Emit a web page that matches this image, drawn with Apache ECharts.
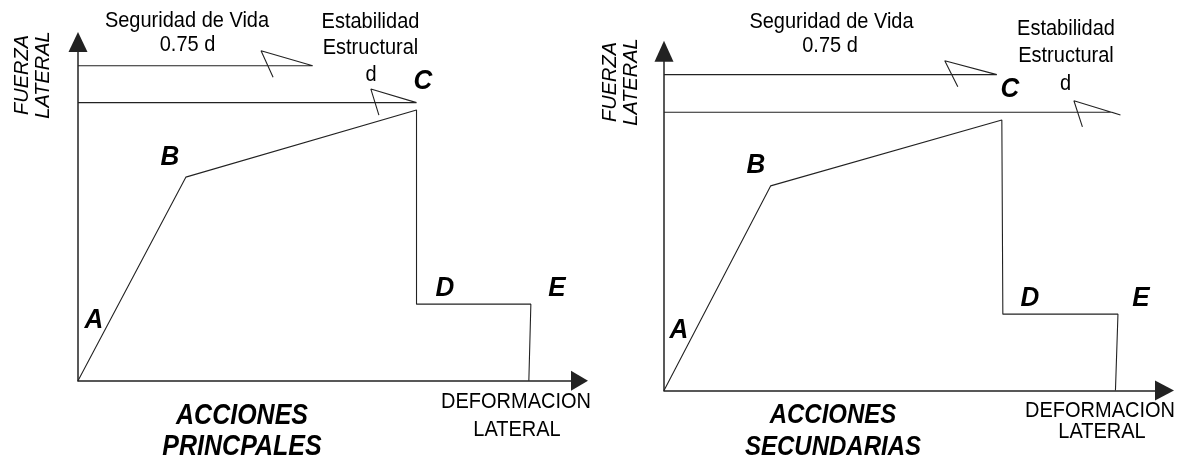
<!DOCTYPE html>
<html>
<head>
<meta charset="utf-8">
<script src="https://cdn.jsdelivr.net/npm/echarts@6/dist/echarts.min.js"></script>
<style>
  html, body { margin: 0; padding: 0; background: #fff; }
  #chart { width: 1184px; height: 462px; }
</style>
</head>
<body>
<div id="chart"></div>
<script>
// curve A-B-C-D-E, acciones principales (x: deformacion, y: fuerza, 0..100)
var curveLeftX = [0, 21.5, 67.5, 67.5, 90.3, 89.9];
var curveLeftY = [0, 60.1, 79.9, 22.6, 22.6, 0];
// seguridad de vida line with half arrow
var lifeLeftX = [0, 46.8, 36.5, 38.9];
var lifeLeftY = [93.0, 93.0, 97.4, 89.6];
// estabilidad estructural line with half arrow
var stabLeftX = [0, 67.5, 58.4, 60.0];
var stabLeftY = [82.1, 82.1, 86.1, 78.4];

// acciones secundarias
var curveRightX = [0, 21.3, 67.5, 67.7, 90.7, 90.2];
var curveRightY = [0, 60.3, 79.7, 22.5, 22.5, 0];
var lifeRightX = [0, 66.5, 56.1, 58.7];
var lifeRightY = [93.1, 93.1, 97.2, 89.5];
var stabRightX = [0, 89.5, 91.2, 81.9, 83.6];
var stabRightY = [82.0, 82.0, 81.2, 85.4, 77.7];

var pointNames = ['A', 'B', 'C', 'D', 'E'];

var FONT = '"Liberation Sans", Arial, sans-serif';

function pts(xs, ys) {
  return xs.map(function (x, i) { return [x, ys[i]]; });
}

function lineSeries(idx, xs, ys) {
  return {
    type: 'line',
    xAxisIndex: idx,
    yAxisIndex: idx,
    data: pts(xs, ys),
    symbol: 'none',
    silent: true,
    lineStyle: { color: '#222', width: 1.1 }
  };
}

function axis(idx, size) {
  return {
    type: 'value',
    gridIndex: idx,
    min: 0,
    max: 100,
    axisLine: {
      show: true,
      onZero: false,
      symbol: ['none', 'triangle'],
      symbolSize: size,
      lineStyle: { color: '#222', width: 1.5 }
    },
    axisTick: { show: false },
    axisLabel: { show: false },
    splitLine: { show: false }
  };
}

function txt(x, y, text, size, opts) {
  opts = opts || {};
  return {
    type: 'text',
    x: x,
    y: y,
    rotation: opts.rotation || 0,
    scaleY: opts.sy || 1.08,
    silent: true,
    style: {
      text: text,
      fontFamily: FONT,
      fontSize: size,
      fontWeight: opts.bold ? 'bold' : 'normal',
      fontStyle: opts.italic ? 'italic' : 'normal',
      lineHeight: opts.lineHeight || size,
      fill: '#000',
      align: 'center',
      verticalAlign: 'middle'
    }
  };
}

var ptOpt = { bold: true, italic: true, sy: 1.08 };
var titleOpt = { bold: true, italic: true, sy: 1.15 };
var sideOpt = { italic: true, rotation: Math.PI / 2, lineHeight: 21, sy: 1 };

var graphics = [
  // left panel
  txt(187, 21.5, 'Seguridad de Vida', 20),
  txt(187.5, 45.5, '0.75 d', 20),
  txt(370.5, 21.7, 'Estabilidad', 20),
  txt(370.5, 48.5, 'Estructural', 20),
  txt(371, 75, 'd', 20),
  txt(33, 75, 'FUERZA\nLATERAL', 20, sideOpt),
  txt(94, 320, pointNames[0], 26, ptOpt),
  txt(170, 157, pointNames[1], 26, ptOpt),
  txt(423, 81.5, pointNames[2], 26, ptOpt),
  txt(445, 288, pointNames[3], 26, ptOpt),
  txt(557, 288, pointNames[4], 26, ptOpt),
  txt(242, 416, 'ACCIONES', 25, titleOpt),
  txt(242, 447, 'PRINCPALES', 25, titleOpt),
  txt(516, 401.5, 'DEFORMACION', 20, { sy: 1.12 }),
  txt(517, 430, 'LATERAL', 20, { sy: 1.12 }),
  // right panel
  txt(831.5, 22, 'Seguridad de Vida', 20),
  txt(830, 46, '0.75 d', 20),
  txt(1066, 29, 'Estabilidad', 20),
  txt(1066, 56, 'Estructural', 20),
  txt(1065.5, 84, 'd', 20),
  txt(620.5, 82, 'FUERZA\nLATERAL', 20, sideOpt),
  txt(679, 330, pointNames[0], 26, ptOpt),
  txt(756, 165, pointNames[1], 26, ptOpt),
  txt(1010, 89, pointNames[2], 26, ptOpt),
  txt(1030, 298, pointNames[3], 26, ptOpt),
  txt(1141, 298, pointNames[4], 26, ptOpt),
  txt(833, 415, 'ACCIONES', 24, titleOpt),
  txt(833, 447, 'SECUNDARIAS', 24, titleOpt),
  txt(1100, 410.5, 'DEFORMACION', 20, { sy: 1.12 }),
  txt(1102, 431.5, 'LATERAL', 20, { sy: 1.12 })
];

var chart = echarts.init(document.getElementById('chart'), null, { renderer: 'canvas' });

var option = {
  animation: false,
  backgroundColor: '#fff',
  grid: [
    { left: 78, top: 42, width: 501.5, height: 338.7 },
    { left: 664, top: 51.2, width: 500.5, height: 339.3 }
  ],
  xAxis: [axis(0, [20, 17]), axis(1, [20, 19])],
  yAxis: [axis(0, [19, 20]), axis(1, [19, 21])],
  series: [
    lineSeries(0, curveLeftX, curveLeftY),
    lineSeries(0, lifeLeftX, lifeLeftY),
    lineSeries(0, stabLeftX, stabLeftY),
    lineSeries(1, curveRightX, curveRightY),
    lineSeries(1, lifeRightX, lifeRightY),
    lineSeries(1, stabRightX, stabRightY)
  ],
  graphic: graphics
};

chart.setOption(option);
</script>
</body>
</html>
